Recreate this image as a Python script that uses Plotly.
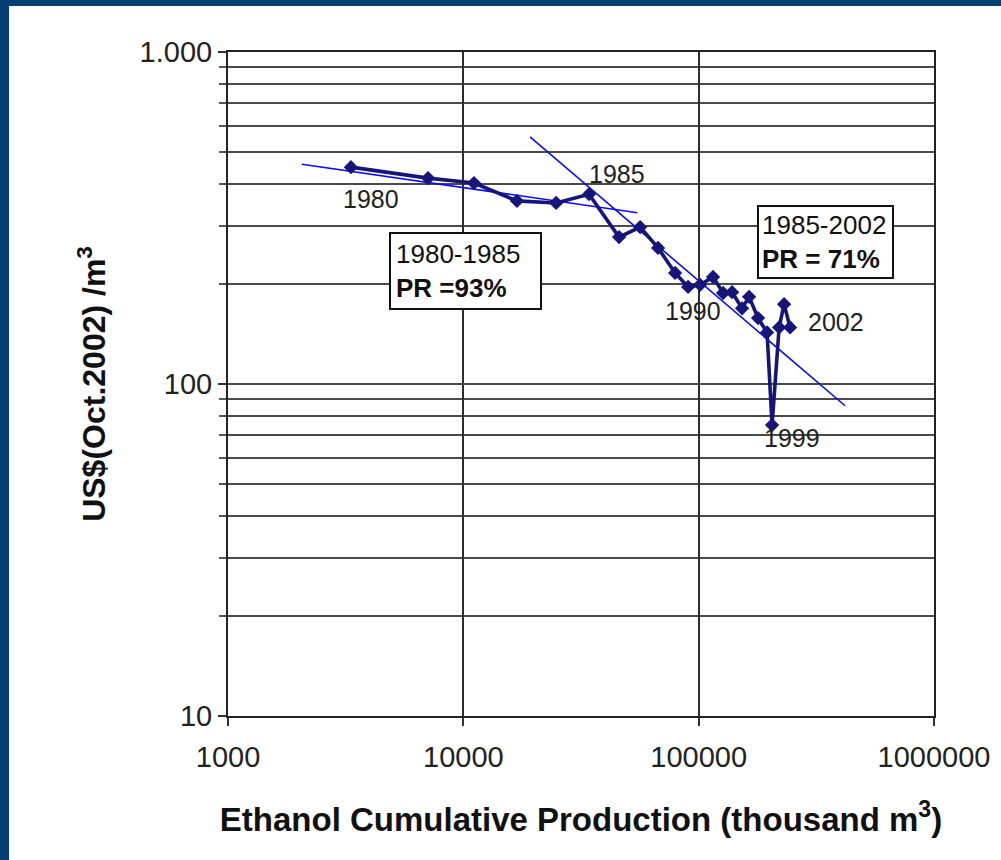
import math
import plotly.graph_objects as go

# ---- data ----
years = list(range(1980, 2003))
cum_production = [3330, 7080, 11100, 16900, 24800, 34200, 45900, 56400, 67200, 79400,
                  90200, 101400, 115100, 127000, 138700, 152900, 163800, 178800, 195300,
                  205100, 219700, 230700, 244600]
price = [450, 417, 403, 356, 351, 373, 277, 297, 257, 216,
         196, 199, 210, 188, 189, 169, 183, 158, 143,
         75.2, 148, 174, 148]

fit1_x = [2060, 54900]
fit1_y = [459, 328]
fit2_x = [19200, 419000]
fit2_y = [555, 86]

x_tickvals = [1000, 10000, 100000, 1000000]
x_ticktext = ["1000", "10000", "100000", "1000000"]
y_tickvals = [10, 100, 1000]
y_ticktext = ["10", "100", "1.000"]
y_minor = [m * d for d in (10, 100) for m in range(2, 10)]

labelled_years = [1980, 1985, 1990, 1999, 2002]
label_shift = {1980: (20, -32), 1985: (28, 20), 1990: (5, -24), 1999: (20, -13), 2002: (46, 5)}

FONT = "Liberation Sans, Arial, Helvetica, sans-serif"
NAVY = "#15157a"
BLUE = "#0a0aff"
GRID = "#4a4a4a"

fig = go.Figure()
fig.add_trace(go.Scatter(x=fit1_x, y=fit1_y, mode="lines",
                         line=dict(color=BLUE, width=1.6), hoverinfo="skip", showlegend=False))
fig.add_trace(go.Scatter(x=fit2_x, y=fit2_y, mode="lines",
                         line=dict(color=BLUE, width=1.6), hoverinfo="skip", showlegend=False))
fig.add_trace(go.Scatter(x=cum_production, y=price, mode="lines+markers",
                         line=dict(color=NAVY, width=3.6),
                         marker=dict(symbol="diamond", size=11, color=NAVY),
                         text=[str(y) for y in years], showlegend=False))

for yr in labelled_years:
    i = years.index(yr)
    dx, dy = label_shift[yr]
    fig.add_annotation(x=math.log10(cum_production[i]), y=math.log10(price[i]),
                       xref="x", yref="y",
                       text=str(yr), showarrow=False, xshift=dx, yshift=dy,
                       xanchor="center", yanchor="middle",
                       font=dict(family=FONT, size=25, color="#222222"))

fig.add_annotation(xref="paper", yref="paper", x=0.3357, y=0.6702,
                   xanchor="center", yanchor="middle",
                   text="1980-1985<br><b>PR =93%</b>", showarrow=False, align="left",
                   font=dict(family=FONT, size=26, color="#111111"),
                   bgcolor="white", bordercolor="#111111", borderwidth=2, borderpad=5,
                   width=139)
fig.add_annotation(xref="paper", yref="paper", x=0.8470, y=0.7139,
                   xanchor="center", yanchor="middle",
                   text="1985-2002<br><b>PR = 71%</b>", showarrow=False, align="left",
                   font=dict(family=FONT, size=26, color="#111111"),
                   bgcolor="white", bordercolor="#111111", borderwidth=2, borderpad=3,
                   width=127)

# dark-blue frame strips (top and left)
fig.add_shape(type="rect", xref="paper", yref="paper",
              x0=-229 / 706, x1=(1001 - 228) / 706, y0=1 + 46 / 664, y1=1 + 53 / 664,
              fillcolor="#033f73", line=dict(width=0), layer="below")
fig.add_shape(type="rect", xref="paper", yref="paper",
              x0=-229 / 706, x1=-219 / 706, y0=-145 / 664, y1=1 + 53 / 664,
              fillcolor="#033f73", line=dict(width=0), layer="below")

fig.update_layout(
    width=1001, height=860,
    margin=dict(l=228, r=67, t=52, b=144, pad=0),
    paper_bgcolor="white", plot_bgcolor="white",
    font=dict(family=FONT, color="#222222"),
    showlegend=False,
)
fig.update_xaxes(
    type="log", range=[3, 6],
    tickmode="array", tickvals=x_tickvals, ticktext=x_ticktext,
    tickfont=dict(family=FONT, size=29, color="#222222"),
    ticks="outside", ticklen=8, tickcolor="#333333", tickwidth=1.5,
    ticklabelstandoff=6,
    showgrid=True, gridcolor="#2e2e2e", gridwidth=1.6,
    showline=True, linecolor="#222222", linewidth=2, mirror=True,
    zeroline=False,
    title=dict(text="<b>Ethanol Cumulative Production (thousand m<sup>3</sup>)</b>",
               font=dict(family=FONT, size=33, color="#111111"), standoff=36),
)
fig.update_yaxes(
    type="log", range=[1, 3],
    tickmode="array", tickvals=y_tickvals, ticktext=y_ticktext,
    tickfont=dict(family=FONT, size=29, color="#222222"),
    ticks="outside", ticklen=8, tickcolor="#333333", tickwidth=1.5,
    showgrid=True, gridcolor=GRID, gridwidth=1.8,
    minor=dict(tickmode="array", tickvals=y_minor, ticks="outside", ticklen=7,
               tickcolor="#555555", showgrid=True, gridcolor=GRID, gridwidth=1.8),
    showline=True, linecolor="#222222", linewidth=2, mirror=True,
    zeroline=False,
    title=dict(text="<b>US$(Oct.2002) /m<sup>3</sup></b>",
               font=dict(family=FONT, size=32, color="#111111"), standoff=24),
)

fig.write_html("out.html", config={"displayModeBar": False},
               post_script="document.body.style.margin='0';")
